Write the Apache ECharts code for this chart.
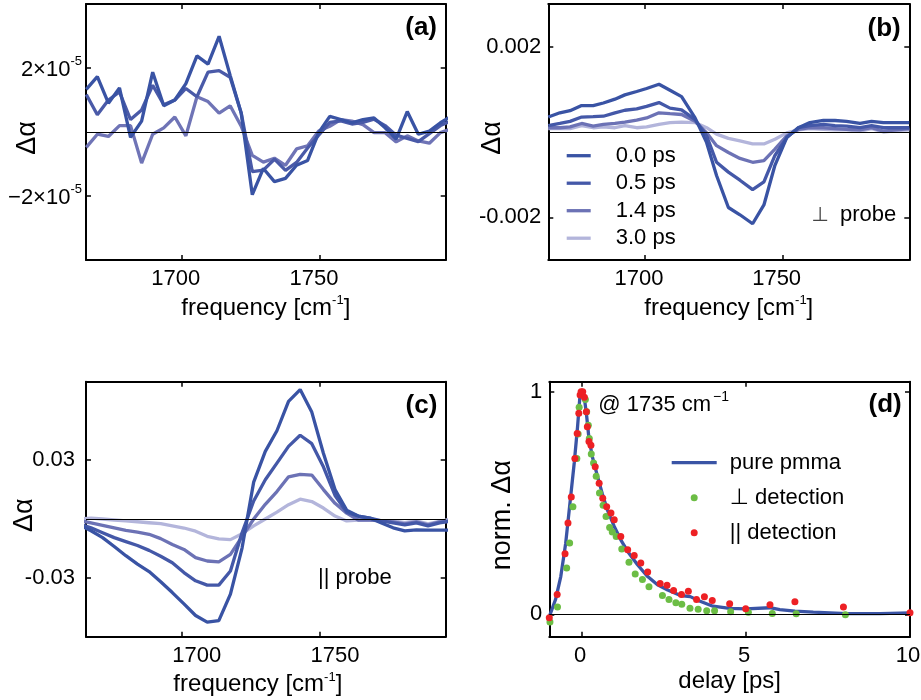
<!DOCTYPE html>
<html><head><meta charset="utf-8">
<script src="https://cdn.jsdelivr.net/npm/echarts@6/dist/echarts.min.js"></script>
<style>html,body{margin:0;padding:0;background:#fff}#chart{width:921px;height:700px}</style>
</head><body><div id="chart"></div>
<script>
// ---------- DATA ----------
// panel (a): values in units of 1e-5
const freqA = [1665.5,1669.5,1673.5,1677.5,1681.5,1685.5,1689.5,1693.5,1697.5,1701.5,1705.5,1709.5,1713.5,1717.5,1721.5,1725.5,1729.5,1733.5,1737.5,1741.5,1745.5,1749.5,1753.5,1757.5,1761.5,1765.5,1769.5,1773.5,1777.5,1781.5,1785.5,1789.5,1793.5,1797.5];
const a00 = [1.33,1.73,0.9,1.38,-0.17,0.34,1.87,0.82,1.0,1.51,2.38,2.12,2.99,1.77,0.59,-1.96,-1.14,-1.55,-1.45,-1.04,-0.89,-0.02,0.49,0.39,0.29,0.39,0.44,0.13,-0.22,0.64,-0.07,0.03,0.29,0.5];
const a05 = [1.17,0.54,1.0,1.25,0.39,0.69,1.46,0.85,1.0,1.36,1.1,1.87,1.92,1.71,0.59,-1.24,-1.19,-0.85,-1.2,-0.95,-0.5,-0.1,0.3,0.35,0.25,0.3,0.4,0.2,-0.1,-0.2,-0.3,-0.05,0.2,0.35];
const a14 = [-0.48,-0.07,-0.14,0.2,0.2,-0.97,-0.07,0.13,0.47,-0.12,1.1,0.95,0.59,0.82,0.18,-0.73,-0.94,-0.82,-1.04,-0.53,-0.43,0.03,0.18,0.39,0.34,0.23,-0.02,-0.02,-0.31,-0.12,-0.28,-0.35,-0.02,0.1];

// panel (b): values in units of 1e-3
const freqB = [1664.9,1669.1,1672.8,1677.0,1681.2,1684.9,1689.1,1692.7,1697.0,1700.6,1705.1,1709.1,1713.3,1718.2,1722.4,1726.0,1730.3,1734.5,1739.1,1743.2,1747.2,1751.5,1755.7,1759.9,1764.8,1769.0,1773.2,1778.1,1782.3,1786.6,1791.4,1796.0];
const b00 = [0.35,0.45,0.5,0.62,0.62,0.68,0.77,0.87,0.95,1.02,1.12,0.98,0.83,0.33,-0.25,-1.02,-1.77,-1.94,-2.15,-1.71,-0.78,-0.13,0.1,0.22,0.27,0.27,0.25,0.2,0.25,0.22,0.22,0.22];
const b05 = [0.15,0.2,0.25,0.35,0.36,0.37,0.45,0.51,0.54,0.6,0.69,0.56,0.52,0.29,-0.09,-0.71,-0.94,-1.13,-1.35,-1.17,-0.55,-0.13,0.1,0.15,0.18,0.15,0.14,0.1,0.15,0.1,0.1,0.1];
const b14 = [0.1,0.1,0.12,0.2,0.14,0.18,0.2,0.23,0.28,0.33,0.45,0.43,0.41,0.25,-0.02,-0.32,-0.48,-0.62,-0.71,-0.67,-0.4,-0.09,0.06,0.1,0.1,0.08,0.06,0.05,0.1,0.02,0.05,0.08];
const b30 = [0.08,0.08,0.08,0.15,0.1,0.12,0.1,0.15,0.1,0.12,0.18,0.22,0.23,0.22,0.1,-0.05,-0.15,-0.21,-0.28,-0.28,-0.17,-0.02,0.05,0.08,0.06,0.05,0.05,0.02,0.08,0.0,0.03,0.05];

// panel (c): values in units of 1e-2
const freqC = [1663,1667.2,1671.4,1675.6,1679.8,1684,1688.2,1692.4,1696.6,1700.8,1705,1709.2,1713.4,1717.6,1721.8,1726,1730.2,1734.4,1738.6,1742.8,1747,1751.2,1755.4,1759.6,1763.8,1768,1772.2,1776.4,1780.6,1784.8,1789,1793.2,1797.4];
const c00 = [-0.3,-0.6,-0.95,-1.4,-1.87,-2.3,-2.68,-3.2,-3.75,-4.33,-4.92,-5.26,-5.18,-3.83,-1.48,1.88,3.45,4.5,6.0,6.6,5.45,3.35,1.5,0.45,0.15,0.05,-0.2,-0.45,-0.6,-0.55,-0.57,-0.57,-0.57];
const c05 = [-0.25,-0.45,-0.7,-0.95,-1.15,-1.35,-1.6,-1.9,-2.23,-2.73,-3.15,-3.37,-3.37,-2.65,-0.7,0.92,2.0,2.85,3.7,4.27,3.84,2.66,1.2,0.35,0.15,0.05,-0.1,-0.2,-0.3,-0.2,-0.35,-0.2,-0.1];
const c14 = [-0.08,-0.2,-0.32,-0.45,-0.58,-0.67,-0.78,-1.0,-1.3,-1.55,-1.97,-2.14,-2.19,-1.8,-0.9,0.0,0.75,1.4,2.15,2.28,2.24,1.5,0.8,0.3,-0.05,-0.05,-0.1,-0.15,-0.25,-0.15,-0.3,-0.15,-0.1];
const c30 = [0.0,0.05,0.0,-0.05,-0.1,-0.14,-0.19,-0.24,-0.35,-0.46,-0.62,-0.88,-1.01,-1.05,-0.75,-0.35,0.0,0.35,0.73,1.01,0.89,0.56,0.15,-0.1,-0.05,-0.05,-0.08,-0.1,-0.18,-0.1,-0.25,-0.12,0.0];

// panel (d)
const blueDelay = [-1.0,-0.81,-0.65,-0.5,-0.37,-0.24,-0.14,-0.06,0.01,0.08,0.14,0.21,0.31,0.47,0.62,0.77,0.98,1.18,1.39,1.69,2.0,2.3,2.61,3.0,3.3,3.58,3.99,4.5,5.0,5.73,6.03,6.49,7.05,8.07,9.09,10.0];
const blueVal = [-0.01,0.067,0.17,0.32,0.5,0.68,0.84,0.99,1.0,0.96,0.89,0.79,0.71,0.62,0.54,0.47,0.395,0.335,0.283,0.223,0.17,0.133,0.11,0.085,0.08,0.06,0.037,0.027,0.025,0.03,0.022,0.015,0.01,0.004,0.004,0.007];
const greenDelay = [-0.98,-0.75,-0.47,-0.38,-0.28,-0.16,-0.12,-0.09,0.1,0.14,0.19,0.22,0.28,0.35,0.43,0.53,0.64,0.73,0.84,0.92,1.04,1.21,1.43,1.62,1.84,2.04,2.45,2.65,2.86,3.04,3.29,3.54,3.8,4.04,4.53,5.07,5.8,6.53,8.03];
const greenVal = [-0.034,0.033,0.209,0.321,0.483,0.70,0.81,0.93,0.965,0.91,0.85,0.79,0.72,0.68,0.62,0.545,0.49,0.44,0.39,0.37,0.35,0.294,0.234,0.182,0.157,0.124,0.085,0.067,0.052,0.046,0.028,0.023,0.017,0.017,0.012,0.01,0.004,0.003,-0.002];
const redDelay = [-1.0,-0.76,-0.52,-0.43,-0.33,-0.22,-0.15,-0.1,-0.06,-0.03,0.02,0.07,0.13,0.16,0.21,0.27,0.4,0.52,0.63,0.75,0.88,0.98,1.18,1.39,1.59,1.79,2.0,2.38,2.59,2.79,3.03,3.24,3.49,3.73,3.97,4.5,4.99,5.73,6.49,7.97,10.0];
const redVal = [-0.015,0.09,0.273,0.41,0.527,0.70,0.812,0.903,0.985,1.0,1.0,0.975,0.91,0.843,0.776,0.76,0.663,0.589,0.522,0.484,0.455,0.425,0.35,0.29,0.265,0.231,0.19,0.139,0.131,0.107,0.09,0.104,0.067,0.079,0.062,0.048,0.025,0.044,0.057,0.033,0.008];

// names and tick labels
const delayNames = ['0.0 ps','0.5 ps','1.4 ps','3.0 ps'];
const dNames = ['pure pmma','⊥ detection','|| detection'];
const freqTicks = [1700, 1750];
const freqTickText = ['1700', '1750'];
const aYTicks = [-2, 2];
const aYTickText = ['−2×10', '2×10'];
const aYTickExp = '-5';
const bYTicks = [-2, 2];
const bYTickText = ['-0.002', '0.002'];
const cYTicks = [-3, 3];
const cYTickText = ['-0.03', '0.03'];
const dXTicks = [0, 5, 10];
const dXTickText = ['0', '5', '10'];
const dYTicks = [0, 1];
const dYTickText = ['0', '1'];

// ---------- STYLE ----------
const FONT = '"Liberation Sans", Arial, Helvetica, "DejaVu Sans", sans-serif';
const COL = ['#3953a4', '#4458a8', '#6c72b5', '#b3b5db'];
const COLA = ['#3953a4', '#4a5aa8', '#6f74b6'];
const BLUE = '#3a54a5', GREEN = '#6cbd45', RED = '#ed2024';
const LW = 3.3;

function zip(xs, ys) { return xs.map((x, i) => [x, ys[i]]); }
function fmtFrom(ticks, texts) { return v => { const i = ticks.indexOf(v); return i >= 0 ? texts[i] : ''; }; }

const axisLineS = { show: true, onZero: false, lineStyle: { color: '#000', width: 2 } };
function tickS(vals) { return { show: true, inside: true, length: 5, customValues: vals, lineStyle: { color: '#000', width: 1.5 } }; }
const supRich = {
  n: { fontSize: 24, fontFamily: FONT, color: '#000', lineHeight: 26, verticalAlign: 'bottom' },
  s: { fontSize: 13, fontFamily: FONT, color: '#000', lineHeight: 13, verticalAlign: 'top' }
};
const freqName = '{n|frequency [cm}{s|-1}{n|]}';

function xPair(gi, min, max, ticks, texts, labelPad, name, nameGap, namePad) {
  return [
    { type: 'value', gridIndex: gi, position: 'bottom', min, max,
      axisLine: axisLineS, axisTick: tickS(ticks), splitLine: { show: false },
      axisLabel: { show: true, customValues: ticks, formatter: fmtFrom(ticks, texts), color: '#000',
        fontSize: 22, fontFamily: FONT, margin: 8, padding: labelPad },
      name, nameLocation: 'middle', nameGap, nameMoveOverlap: false,
      nameTextStyle: { fontSize: 24, fontFamily: FONT, color: '#000', lineHeight: 26, padding: namePad, rich: supRich } },
    { type: 'value', gridIndex: gi, position: 'top', min, max,
      axisLine: axisLineS, axisTick: tickS(ticks), axisLabel: { show: false }, splitLine: { show: false } }
  ];
}
function yPair(gi, min, max, ticks, formatter, margin, name, nameGap, rich) {
  return [
    { type: 'value', gridIndex: gi, position: 'left', min, max,
      axisLine: axisLineS, axisTick: tickS(ticks), splitLine: { show: false },
      axisLabel: { show: true, customValues: ticks, formatter, color: '#000',
        fontSize: 22, fontFamily: FONT, margin, rich },
      name, nameLocation: 'middle', nameGap, nameMoveOverlap: false,
      nameTextStyle: { fontSize: 27, fontFamily: FONT, color: '#000', padding: [0, 12, 0, 0] } },
    { type: 'value', gridIndex: gi, position: 'right', min, max,
      axisLine: axisLineS, axisTick: tickS(ticks), axisLabel: { show: false }, splitLine: { show: false } }
  ];
}

const zeroLine = { silent: true, symbol: ['none', 'none'], label: { show: false },
  lineStyle: { color: '#000', width: 1.2, type: 'solid' }, emphasis: { disabled: true }, data: [{ yAxis: 0 }] };

function lineS(name, xi, x, y, color, withZero) {
  const s = { type: 'line', name, xAxisIndex: xi, yAxisIndex: xi, data: zip(x, y), symbol: 'none',
    lineStyle: { color, width: LW }, itemStyle: { color }, clip: true, silent: true };
  if (withZero) s.markLine = zeroLine;
  return s;
}

const aFmt = v => { const i = aYTicks.indexOf(v); return i >= 0 ? '{n|' + aYTickText[i] + '}{s|' + aYTickExp + '}' : ''; };
const aRich = {
  n: { fontSize: 22, fontFamily: FONT, color: '#000', lineHeight: 26, verticalAlign: 'bottom' },
  s: { fontSize: 13, fontFamily: FONT, color: '#000', lineHeight: 13, verticalAlign: 'top' }
};

const gridBase = { outerBoundsMode: 'none', containLabel: false };
const option = {
  animation: false,
  backgroundColor: '#fff',
  grid: [
    Object.assign({ left: 86, top: 4, width: 359.7, height: 256 }, gridBase),
    Object.assign({ left: 548.3, top: 4, width: 361, height: 256 }, gridBase),
    Object.assign({ left: 86, top: 381.7, width: 359.7, height: 255 }, gridBase),
    Object.assign({ left: 549.3, top: 381.7, width: 360.7, height: 255 }, gridBase)
  ],
  xAxis: [
    ...xPair(0, 1665.4, 1795.4, freqTicks, freqTickText, [0, 12, 0, 0], freqName, 34, 0),
    ...xPair(1, 1664.9, 1796, freqTicks, freqTickText, [0, 12, 0, 0], freqName, 34, 0),
    ...xPair(2, 1665.4, 1795.4, freqTicks, freqTickText, [0, 0, 0, 30], freqName, 34, [0, 16, 0, 0]),
    ...xPair(3, -1, 10, dXTicks, dXTickText, [0, 4, 0, 0], 'delay [ps]', 32, 0)
  ],
  yAxis: [
    ...yPair(0, -4, 4, aYTicks, aFmt, 4, 'Δα', 45, aRich),
    ...yPair(1, -3, 3, bYTicks, fmtFrom(bYTicks, bYTickText), 7, 'Δα', 42),
    ...yPair(2, -6, 7, cYTicks, fmtFrom(cYTicks, cYTickText), 11, 'Δα', 48),
    ...yPair(3, -0.1, 1.045, dYTicks, fmtFrom(dYTicks, dYTickText), 7, 'norm. Δα', 33)
  ],
  legend: [
    { data: delayNames.map(n => ({ name: n, icon: 'path://M0,0h24v3.3h-24z' })), orient: 'vertical', left: 566.7, top: 144.7, padding: 0,
      itemWidth: 24, itemHeight: 8, itemGap: 5.5, selectedMode: false,
      textStyle: { fontSize: 22, fontFamily: FONT, color: '#000', lineHeight: 22, padding: [0, 0, 0, 20] } },
    { data: [{ name: dNames[0], icon: 'path://M0,0h45v3.3h-45z' }, { name: dNames[1], icon: 'circle' }, { name: dNames[2], icon: 'circle' }],
      orient: 'vertical', left: 671.7, top: 451.7, padding: 0, itemWidth: 45, itemHeight: 7, itemGap: 13, selectedMode: false,
      textStyle: { fontSize: 22, fontFamily: FONT, color: '#000', lineHeight: 22, padding: [0, 0, 0, 8] } }
  ],
  series: [
    lineS('a 1.4 ps', 0, freqA, a14, COLA[2]),
    lineS('a 0.5 ps', 0, freqA, a05, COLA[1]),
    lineS('a 0.0 ps', 0, freqA, a00, COLA[0], true),
    lineS(delayNames[3], 2, freqB, b30, COL[3]),
    lineS(delayNames[2], 2, freqB, b14, COL[2]),
    lineS(delayNames[1], 2, freqB, b05, COL[1]),
    lineS(delayNames[0], 2, freqB, b00, COL[0], true),
    lineS('c 3.0 ps', 4, freqC, c30, COL[3]),
    lineS('c 1.4 ps', 4, freqC, c14, COL[2]),
    lineS('c 0.5 ps', 4, freqC, c05, COL[1]),
    lineS('c 0.0 ps', 4, freqC, c00, COL[0], true),
    Object.assign(lineS(dNames[0], 6, blueDelay, blueVal, BLUE, true), { z: 2 }),
    { type: 'scatter', name: dNames[1], xAxisIndex: 6, yAxisIndex: 6, data: zip(greenDelay, greenVal),
      symbol: 'circle', symbolSize: 7, itemStyle: { color: GREEN, opacity: 1 }, silent: true, z: 3 },
    { type: 'scatter', name: dNames[2], xAxisIndex: 6, yAxisIndex: 6, data: zip(redDelay, redVal),
      symbol: 'circle', symbolSize: 7, itemStyle: { color: RED, opacity: 1 }, silent: true, z: 4 }
  ],
  graphic: [
    { type: 'text', x: 437, y: 28, style: { text: '(a)', font: 'bold 26px ' + FONT, fill: '#000', align: 'right', verticalAlign: 'middle', textAlign: 'right', textVerticalAlign: 'middle' } },
    { type: 'text', x: 900.7, y: 29, style: { text: '(b)', font: 'bold 26px ' + FONT, fill: '#000', align: 'right', verticalAlign: 'middle', textAlign: 'right', textVerticalAlign: 'middle' } },
    { type: 'text', x: 437.3, y: 406, style: { text: '(c)', font: 'bold 26px ' + FONT, fill: '#000', align: 'right', verticalAlign: 'middle', textAlign: 'right', textVerticalAlign: 'middle' } },
    { type: 'text', x: 901.7, y: 405, style: { text: '(d)', font: 'bold 26px ' + FONT, fill: '#000', align: 'right', verticalAlign: 'middle', textAlign: 'right', textVerticalAlign: 'middle' } },
    { type: 'text', x: 820, y: 215, style: { text: '⊥', font: '20px ' + FONT, fill: '#444', align: 'center', verticalAlign: 'middle', textAlign: 'center', textVerticalAlign: 'middle' } },
    { type: 'text', x: 840, y: 215, style: { text: 'probe', font: '22px ' + FONT, fill: '#000', align: 'left', verticalAlign: 'middle', textAlign: 'left', textVerticalAlign: 'middle' } },
    { type: 'text', x: 318, y: 578.3, style: { text: '|| probe', font: '22px ' + FONT, fill: '#000', align: 'left', verticalAlign: 'middle', textAlign: 'left', textVerticalAlign: 'middle' } },
    { type: 'text', x: 598.3, y: 405.3, style: { text: '@ 1735 cm', font: '22px ' + FONT, fill: '#000', align: 'left', verticalAlign: 'middle', textAlign: 'left', textVerticalAlign: 'middle' } },
    { type: 'text', x: 713, y: 397, style: { text: '−1', font: '14px ' + FONT, fill: '#000', align: 'left', verticalAlign: 'middle', textAlign: 'left', textVerticalAlign: 'middle' } }
  ]
};

const chart = echarts.init(document.getElementById('chart'), null, { renderer: 'canvas' });
chart.setOption(option);
</script>
</body></html>
